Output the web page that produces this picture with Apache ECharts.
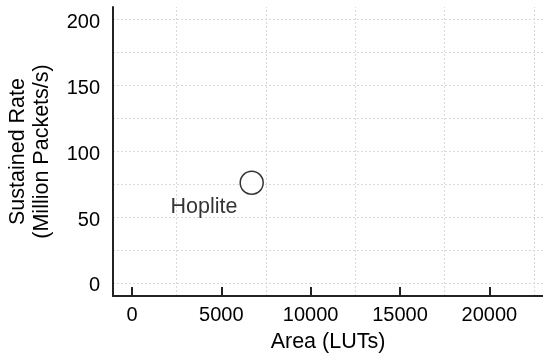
<!DOCTYPE html>
<html>
<head>
<meta charset="utf-8">
<script src="https://cdn.jsdelivr.net/npm/echarts@6/dist/echarts.min.js"></script>
<style>
  html, body { margin: 0; padding: 0; background: #fff; }
  #chart { width: 543px; height: 355px; }
</style>
</head>
<body>
<div id="chart"></div>
<script>
// Design points: area in LUTs vs sustained packet rate
const designNames = ['Hoplite'];
const areaLUTs = [6700];
const rateMpps = [76];

// Axis ticks and grid lines
const xTickValues = [0, 5000, 10000, 15000, 20000];
const xGridValues = [2500, 7500, 12500, 17500, 22500];
const yTickValues = [0, 50, 100, 150, 200];
const yGridValues = [0, 25, 50, 75, 100, 125, 150, 175, 200];

const FONT = 'Liberation Sans, Arial, sans-serif';
const gridStyle = { color: '#d8d8d8', width: 1, type: [2, 2] };

const chart = echarts.init(document.getElementById('chart'), null, { renderer: 'canvas' });

const gridLines = []
  .concat(xGridValues.map(v => ({ xAxis: v })))
  .concat(yGridValues.map(v => ({ yAxis: v })));

chart.setOption({
  animation: false,
  backgroundColor: '#ffffff',
  grid: { left: 113, right: 0, top: 7, bottom: 59, containLabel: false, outerBoundsMode: 'none' },
  xAxis: {
    type: 'value',
    min: -1060,
    max: 23000,
    name: 'Area (LUTs)',
    nameLocation: 'middle',
    nameGap: 35,
    nameTextStyle: { fontFamily: FONT, fontSize: 21.5, color: '#000' },
    axisLine: { show: true, onZero: false, lineStyle: { color: '#222', width: 2 } },
    axisTick: { show: true, inside: true, length: 9, customValues: xTickValues,
                lineStyle: { color: '#222', width: 2 } },
    axisLabel: { customValues: xTickValues, formatter: v => String(v),
                 fontFamily: FONT, fontSize: 20, color: '#000', margin: 9 },
    splitLine: { show: false }
  },
  yAxis: {
    type: 'value',
    min: -10,
    max: 209.5,
    name: 'Sustained Rate\n(Million Packets/s)',
    nameLocation: 'middle',
    nameGap: 59,
    nameRotate: 90,
    nameTextStyle: { fontFamily: FONT, fontSize: 21.5, color: '#000', lineHeight: 24 },
    axisLine: { show: true, onZero: false, lineStyle: { color: '#222', width: 2 } },
    axisTick: { show: false },
    axisLabel: { customValues: yTickValues, fontFamily: FONT, fontSize: 20, color: '#000',
                 margin: 13, verticalAlign: 'top', lineHeight: 6 },
    splitLine: { show: false }
  },
  series: [{
    type: 'scatter',
    data: areaLUTs.map((x, i) => ({ value: [x, rateMpps[i]], name: designNames[i] })),
    symbol: 'circle',
    symbolSize: 23,
    itemStyle: { color: '#ffffff', borderColor: '#000', borderWidth: 1.5 },
    label: {
      show: true,
      position: 'left',
      distance: 2,
      offset: [0, 24],
      formatter: p => p.name,
      fontFamily: FONT,
      fontSize: 21.5,
      color: '#000'
    },
    markLine: {
      silent: true,
      symbol: 'none',
      label: { show: false },
      lineStyle: gridStyle,
      z: 0,
      data: gridLines
    },
    z: 5
  }]
});
</script>
</body>
</html>
